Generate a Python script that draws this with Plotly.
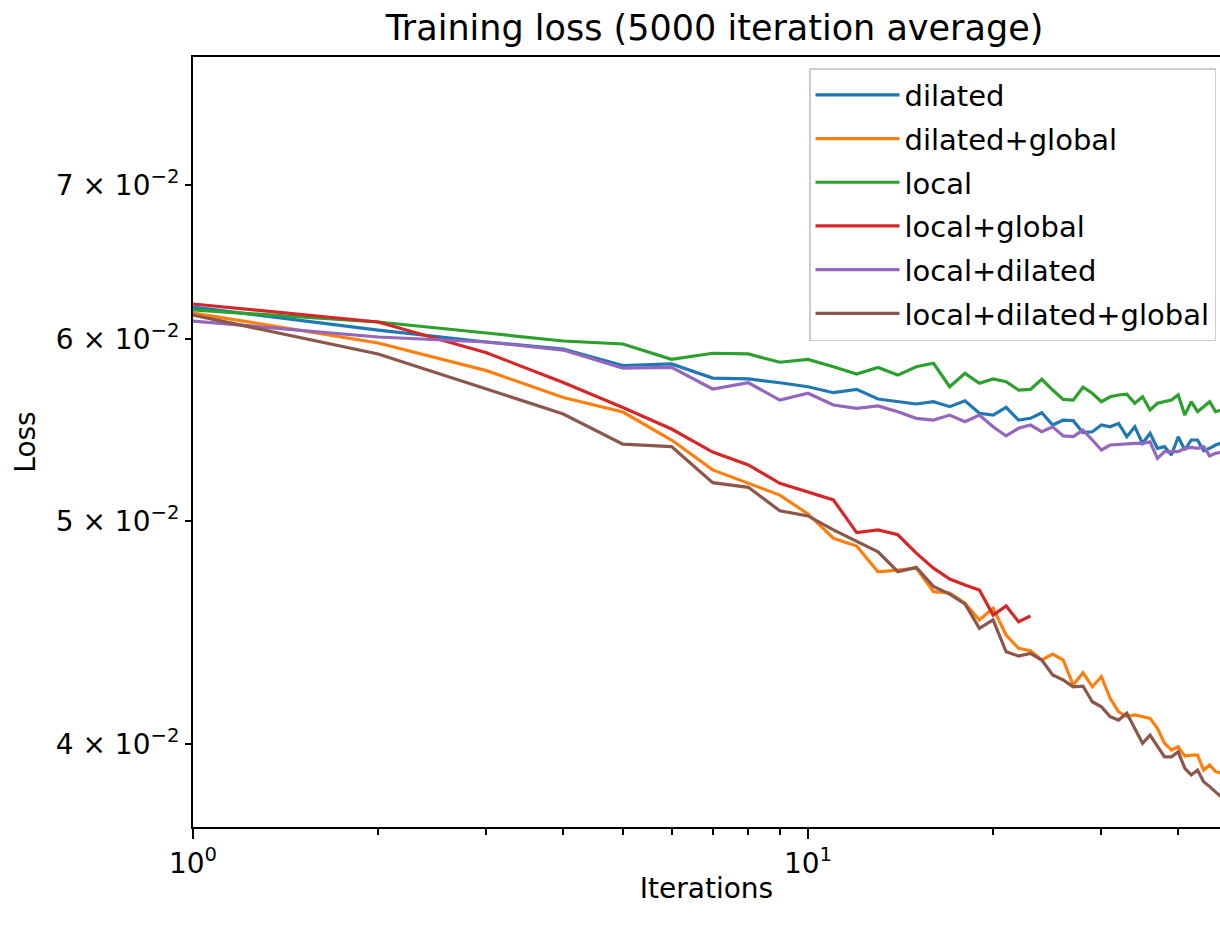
import plotly.graph_objects as go

iterations = list(range(1, 48))
iterations_lg = list(range(1, 24))

dilated = [0.06195, 0.06054, 0.05982, 0.05940, 0.05843, 0.05852, 0.05770, 0.05765, 0.05743, 0.05720,
           0.05686, 0.05705, 0.05650, 0.05635, 0.05622, 0.05635, 0.05607, 0.05640, 0.05570, 0.05560,
           0.05603, 0.05532, 0.05542, 0.05573, 0.05505, 0.05532, 0.05529, 0.05463, 0.05468, 0.05505,
           0.05495, 0.05514, 0.05441, 0.05495, 0.05405, 0.05459, 0.05378, 0.05387, 0.05342, 0.05441,
           0.05369, 0.05423, 0.05423, 0.05365, 0.05378, 0.05396, 0.05406]
dilated_global = [0.06158, 0.05976, 0.05813, 0.05659, 0.05577, 0.05423, 0.05263, 0.05193, 0.05132, 0.05036,
                  0.04915, 0.04877, 0.04753, 0.04761, 0.04770, 0.04659, 0.04653, 0.04605, 0.04529, 0.04582,
                  0.04461, 0.04402, 0.04392, 0.04351, 0.04377, 0.04351, 0.04243, 0.04296, 0.04236, 0.04279,
                  0.04187, 0.04131, 0.04111, 0.04118, 0.04111, 0.04104, 0.04063, 0.04003, 0.03976, 0.03989,
                  0.03952, 0.03956, 0.03956, 0.03897, 0.03917, 0.03891, 0.03885]
local = [0.06177, 0.06103, 0.06036, 0.05988, 0.05970, 0.05879, 0.05915, 0.05911, 0.05862, 0.05879,
         0.05836, 0.05793, 0.05831, 0.05787, 0.05836, 0.05856, 0.05720, 0.05797, 0.05740, 0.05765,
         0.05749, 0.05701, 0.05705, 0.05763, 0.05701, 0.05648, 0.05644, 0.05717, 0.05683, 0.05635,
         0.05663, 0.05673, 0.05678, 0.05626, 0.05663, 0.05588, 0.05626, 0.05635, 0.05644, 0.05673,
         0.05560, 0.05635, 0.05579, 0.05607, 0.05635, 0.05579, 0.05588]
local_global = [0.06214, 0.06103, 0.05918, 0.05744, 0.05602, 0.05483, 0.05358, 0.05289, 0.05193, 0.05149,
                0.05107, 0.04943, 0.04956, 0.04932, 0.04842, 0.04770, 0.04718, 0.04690, 0.04667, 0.04551,
                0.04593, 0.04521, 0.04547]
local_dilated = [0.06109, 0.06012, 0.05982, 0.05934, 0.05828, 0.05832, 0.05707, 0.05743, 0.05644, 0.05683,
                 0.05616, 0.05598, 0.05611, 0.05579, 0.05542, 0.05532, 0.05560, 0.05523, 0.05560, 0.05495,
                 0.05445, 0.05487, 0.05505, 0.05468, 0.05495, 0.05445, 0.05441, 0.05477, 0.05423, 0.05369,
                 0.05396, 0.05399, 0.05405, 0.05405, 0.05405, 0.05413, 0.05324, 0.05360, 0.05360, 0.05360,
                 0.05378, 0.05383, 0.05378, 0.05387, 0.05337, 0.05351, 0.05358]
local_dilated_global = [0.06146, 0.05911, 0.05707, 0.05566, 0.05401, 0.05387, 0.05196, 0.05172, 0.05052, 0.05026,
                        0.04956, 0.04898, 0.04849, 0.04753, 0.04774, 0.04683, 0.04648, 0.04602, 0.04491, 0.04529,
                        0.04387, 0.04368, 0.04380, 0.04351, 0.04286, 0.04265, 0.04236, 0.04239, 0.04173, 0.04152,
                        0.04111, 0.04097, 0.04125, 0.04063, 0.04003, 0.04036, 0.03989, 0.03949, 0.03949, 0.03969,
                        0.03904, 0.03878, 0.03897, 0.03852, 0.03833, 0.03813, 0.03793]

series_names = ["dilated", "dilated+global", "local", "local+global", "local+dilated", "local+dilated+global"]
series_x = [iterations, iterations, iterations, iterations_lg, iterations, iterations]
series_y = [dilated, dilated_global, local, local_global, local_dilated, local_dilated_global]
colors = ["#1f77b4", "#ff7f0e", "#2ca02c", "#d62728", "#9467bd", "#8c564b"]

y_tick_vals = [0.04, 0.05, 0.06, 0.07]
y_tick_text = ["4 × 10<sup>−2</sup>", "5 × 10<sup>−2</sup>", "6 × 10<sup>−2</sup>", "7 × 10<sup>−2</sup>"]
x_tick_vals = [1, 10]
x_tick_text = ["10<sup>0</sup>", "10<sup>1</sup>"]
x_minor_vals = [2, 3, 4, 5, 6, 7, 8, 9, 20, 30, 40]

FONT = "DejaVu Sans"

fig = go.Figure()
for name, xs, ys, c in zip(series_names, series_x, series_y, colors):
    fig.add_trace(go.Scatter(x=xs, y=ys, mode="lines", name=name, legendgroup=name,
                             line=dict(color=c, width=3.2)))

fig.update_layout(
    width=1220, height=932,
    margin=dict(l=193, r=0, t=57, b=105),
    paper_bgcolor="white", plot_bgcolor="white",
    font=dict(family=FONT, size=28, color="black"),
    title=dict(text="Training loss (5000 iteration average)", x=0.5 + 8 / 1027, xanchor="center",
               xref="paper", y=1 - 28 / 932, yanchor="middle", yref="container",
               font=dict(family=FONT, size=35, color="black")),
    showlegend=True,
    legend=dict(x=1 - 4 / 1027, xanchor="right", y=1 - 11 / 770, yanchor="top",
                bgcolor="rgba(255,255,255,0.8)", bordercolor="#cccccc", borderwidth=1.5,
                font=dict(family=FONT, size=29, color="black"),
                traceorder="grouped", tracegroupgap=3, itemwidth=84),
    xaxis=dict(type="log", range=[0, 1.670], showgrid=False, zeroline=False,
               showline=True, linecolor="black", linewidth=2, mirror=True,
               ticks="outside", ticklen=10, tickwidth=2, tickcolor="black",
               tickvals=x_tick_vals, ticktext=x_tick_text,
               minor=dict(tickvals=x_minor_vals, ticks="outside", ticklen=6, tickwidth=2,
                          tickcolor="black", showgrid=False),
               tickfont=dict(family=FONT, size=28, color="black"),
               title=dict(text="Iterations", font=dict(family=FONT, size=28, color="black"),
                          standoff=0)),
    yaxis=dict(type="log", range=[-1.43402, -1.09924], showgrid=False, zeroline=False,
               showline=True, linecolor="black", linewidth=2, mirror=False,
               ticks="outside", ticklen=6, tickwidth=2, tickcolor="black",
               tickvals=y_tick_vals, ticktext=y_tick_text,
               tickfont=dict(family=FONT, size=28, color="black"),
               title=dict(text="Loss", font=dict(family=FONT, size=28, color="black"),
                          standoff=12)),
)

fig.write_html("out.html")
